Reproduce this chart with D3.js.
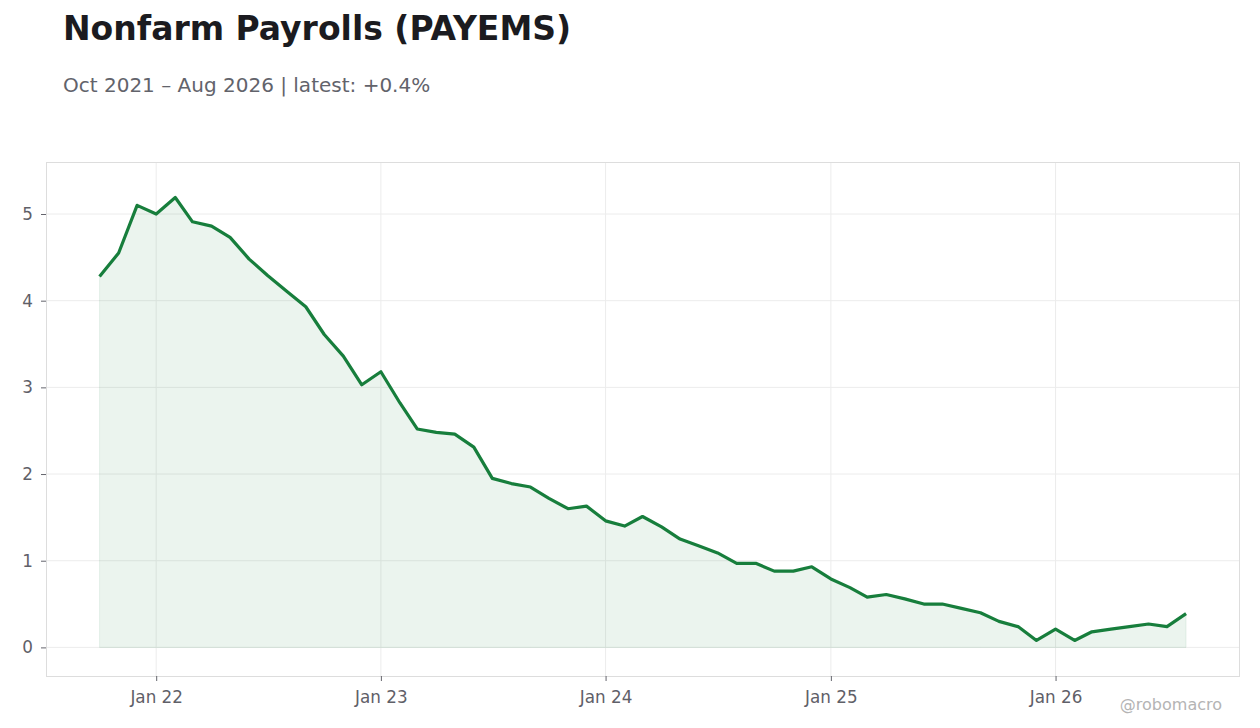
<!DOCTYPE html>
<html>
<head>
<meta charset="utf-8">
<script src="https://cdn.jsdelivr.net/npm/d3@7"></script>
<style>
  body { margin: 0; background: #fff; }
  svg { display: block; font-family: "DejaVu Sans", sans-serif; }
</style>
</head>
<body>
<div id="chart"></div>
<script>
// Nonfarm payrolls, YoY % change, monthly Oct 2021 - Aug 2026
const startMonth = '2021-10';
const yoyValues = [
    4.28, 4.55, 5.10, 5.00, 5.19, 4.91, 4.86, 4.73, 4.48, 4.29,
    4.11, 3.93, 3.61, 3.36, 3.03, 3.18, 2.82, 2.52, 2.48, 2.46,
    2.31, 1.95, 1.89, 1.85, 1.72, 1.60, 1.63, 1.46, 1.40, 1.51,
    1.39, 1.25, 1.17, 1.09, 0.97, 0.97, 0.88, 0.88, 0.93, 0.79,
    0.69, 0.58, 0.61, 0.56, 0.50, 0.50, 0.45, 0.40, 0.30, 0.24,
    0.08, 0.21, 0.08, 0.18, 0.21, 0.24, 0.27, 0.24, 0.39
];
const yTicks = [0, 1, 2, 3, 4, 5];
const xTickDates = ['2022-01-01', '2023-01-01', '2024-01-01', '2025-01-01', '2026-01-01'];

const title = 'Nonfarm Payrolls (PAYEMS)';
const subtitle = 'Oct 2021 \u2013 Aug 2026 | latest: +0.4%';
const credit = '@robomacro';

const W = 1260, H = 728;
const frame = { left: 46, top: 162, right: 1239, bottom: 676 };

const parseMonth = d3.timeParse('%Y-%m');
const parseDay = d3.timeParse('%Y-%m-%d');
const t0 = parseMonth(startMonth);
const data = yoyValues.map((v, i) => ({ date: d3.timeMonth.offset(t0, i), value: v }));

const x = d3.scaleTime()
    .domain([parseDay('2021-07-06'), parseDay('2026-10-26')])
    .range([frame.left, frame.right]);
const y = d3.scaleLinear()
    .domain([-0.33, 5.6])
    .range([frame.bottom, frame.top]);

const svg = d3.select('#chart').append('svg')
    .attr('width', W)
    .attr('height', H);

// titles
svg.append('text')
    .attr('x', 63).attr('y', 40)
    .attr('font-size', 33).attr('font-weight', 'bold')
    .attr('fill', '#1b1b20')
    .text(title);
svg.append('text')
    .attr('x', 63).attr('y', 92)
    .attr('font-size', 20)
    .attr('fill', '#62636b')
    .text(subtitle);

// grid
const grid = svg.append('g');
grid.selectAll('.hgrid').data(yTicks).join('line')
    .attr('x1', frame.left).attr('x2', frame.right)
    .attr('y1', d => y(d)).attr('y2', d => y(d))
    .attr('stroke', '#ececec').attr('stroke-width', 1);
grid.selectAll('.vgrid').data(xTickDates.map(parseDay)).join('line')
    .attr('x1', d => x(d)).attr('x2', d => x(d))
    .attr('y1', frame.top).attr('y2', frame.bottom)
    .attr('stroke', '#ececec').attr('stroke-width', 1);

// area + line
const area = d3.area()
    .x(d => x(d.date))
    .y0(y(0))
    .y1(d => y(d.value));
svg.append('path')
    .datum(data)
    .attr('d', area)
    .attr('fill', '#177e3c')
    .attr('fill-opacity', 0.085)
    .attr('stroke', '#177e3c')
    .attr('stroke-opacity', 0.08)
    .attr('stroke-width', 1);

const line = d3.line()
    .x(d => x(d.date))
    .y(d => y(d.value));
svg.append('path')
    .datum(data)
    .attr('d', line)
    .attr('fill', 'none')
    .attr('stroke', '#177e3c')
    .attr('stroke-width', 3.2)
    .attr('stroke-linejoin', 'round');

// frame
svg.append('rect')
    .attr('x', frame.left + 0.5).attr('y', frame.top + 0.5)
    .attr('width', frame.right - frame.left).attr('height', frame.bottom - frame.top)
    .attr('fill', 'none')
    .attr('stroke', '#dddddd');

// axes
const yAxis = svg.append('g')
    .attr('transform', `translate(${frame.left},0)`)
    .call(d3.axisLeft(y).tickValues(yTicks).tickSize(5).tickPadding(8).tickFormat(d3.format('d')));
const xAxis = svg.append('g')
    .attr('transform', `translate(0,${frame.bottom})`)
    .call(d3.axisBottom(x).tickValues(xTickDates.map(parseDay)).tickSize(5).tickPadding(10)
        .tickFormat(d3.timeFormat('Jan %y')));

[yAxis, xAxis].forEach(ax => {
    ax.select('.domain').remove();
    ax.selectAll('.tick line').attr('stroke', '#63646c');
    ax.selectAll('.tick text')
        .attr('fill', '#5f6068')
        .attr('font-size', 16.8)
        .attr('font-family', '"DejaVu Sans", sans-serif');
});

// credit
svg.append('text')
    .attr('x', 1222).attr('y', 710)
    .attr('text-anchor', 'end')
    .attr('font-size', 16)
    .attr('fill', '#b4b4b4')
    .text(credit);
</script>
</body>
</html>
